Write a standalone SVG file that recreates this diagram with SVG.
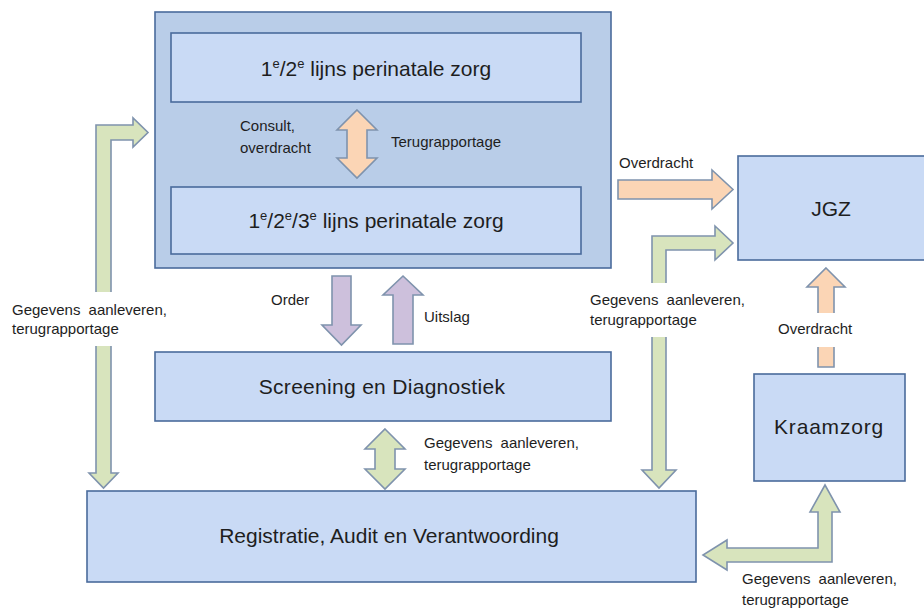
<svg xmlns="http://www.w3.org/2000/svg" width="924" height="611" viewBox="0 0 924 611">
<style>
.box{fill:#c9daf5;stroke:#4a6b9c;stroke-width:1.6}
.outer{fill:#b9cde8;stroke:#4a6b9c;stroke-width:1.6}
.big{font-family:"Liberation Sans",Arial,sans-serif;font-size:21px;fill:#1e1e1e;text-anchor:middle}
.sm{font-family:"Liberation Sans",Arial,sans-serif;font-size:15px;fill:#1e1e1e}
.org{fill:#fbd5b5;stroke:#7f93ad;stroke-width:1.6;stroke-linejoin:miter}
.grn{fill:#d8e4bd;stroke:#7f93ad;stroke-width:1.6}
.pur{fill:#cdc0dc;stroke:#7f93ad;stroke-width:1.6}
.bg{fill:#ffffff}
</style>
<g id="perinatale-zorg">
<rect class="outer" x="155" y="12" width="456" height="256"/>
</g>
<g id="lijn12">
<rect class="box" x="171" y="33" width="410" height="69"/>
<text class="big" x="376" y="76">1<tspan font-size="13" dy="-8">e</tspan><tspan dy="8">/2</tspan><tspan font-size="13" dy="-8">e</tspan><tspan dy="8"> lijns perinatale zorg</tspan></text>
</g>
<g id="lijn123">
<rect class="box" x="171" y="187" width="410" height="67"/>
<text class="big" x="376" y="228">1<tspan font-size="13" dy="-8">e</tspan><tspan dy="8">/2</tspan><tspan font-size="13" dy="-8">e</tspan><tspan dy="8">/3</tspan><tspan font-size="13" dy="-8">e</tspan><tspan dy="8"> lijns perinatale zorg</tspan></text>
</g>
<g id="screening">
<rect class="box" x="155" y="352" width="456" height="69"/>
<text class="big" x="382" y="394" letter-spacing="0.3">Screening en Diagnostiek</text>
</g>
<g id="registratie">
<rect class="box" x="87" y="491" width="609" height="91"/>
<text class="big" x="389" y="543">Registratie, Audit en Verantwoording</text>
</g>
<g id="jgz">
<rect class="box" x="738" y="156" width="190" height="104"/>
<text class="big" x="831" y="216">JGZ</text>
</g>
<g id="kraamzorg">
<rect class="box" x="754" y="374" width="151" height="107"/>
<text class="big" x="829" y="434" letter-spacing="0.8">Kraamzorg</text>
</g>
<g id="connectors">
<path class="grn" d="M96,125 L133,125 L133,118 L148,132.5 L133,147 L133,140 L111,140 L111,473 L118,473 L103.5,488 L89,473 L96,473 Z"/>
<rect class="bg" x="8" y="292" width="170" height="54"/>
<path class="grn" d="M652,236 L715,236 L715,226 L733,243 L715,260 L715,250 L666,250 L666,470 L676,470 L659,488 L642,470 L652,470 Z"/>
<rect class="bg" x="586" y="283" width="168" height="54"/>
<path class="grn" d="M825,485 L840,512 L832,512 L832,562 L727,562 L727,570 L703,555 L727,540 L727,548 L818,548 L818,512 L810,512 Z"/>
<path class="org" d="M357,110 L377,130 L367,130 L367,158 L377,158 L357,178 L337,158 L347,158 L347,130 L337,130 Z"/>
<path class="org" d="M618,180 L712,180 L712,170 L733,189.5 L712,209 L712,199 L618,199 Z"/>
<path class="org" d="M826,268 L845,287 L834,287 L834,367 L818,367 L818,287 L807,287 Z"/>
<rect class="bg" x="774" y="313" width="92" height="34"/>
<path class="pur" d="M332,276 L351,276 L351,325 L361,325 L341.5,345 L322,325 L332,325 Z"/>
<path class="pur" d="M403,276 L423,295 L413,295 L413,344 L393,344 L393,295 L383,295 Z"/>
<path class="grn" d="M385,429 L405,449 L395,449 L395,469 L405,469 L385,489 L365,469 L375,469 L375,449 L365,449 Z"/>
<text class="sm" x="240" y="131">Consult,</text>
<text class="sm" x="240" y="153">overdracht</text>
<text class="sm" x="391" y="147">Terugrapportage</text>
<text class="sm" x="619" y="168">Overdracht</text>
<text class="sm" x="12" y="315" word-spacing="4">Gegevens aanleveren,</text>
<text class="sm" x="12" y="334">terugrapportage</text>
<text class="sm" x="590" y="305" word-spacing="4">Gegevens aanleveren,</text>
<text class="sm" x="590" y="325">terugrapportage</text>
<text class="sm" x="778" y="334">Overdracht</text>
<text class="sm" x="271" y="305">Order</text>
<text class="sm" x="424" y="322">Uitslag</text>
<text class="sm" x="424" y="448" word-spacing="4">Gegevens aanleveren,</text>
<text class="sm" x="424" y="470">terugrapportage</text>
<text class="sm" x="742" y="584" word-spacing="4">Gegevens aanleveren,</text>
<text class="sm" x="742" y="605">terugrapportage</text>
</g>
</svg>
